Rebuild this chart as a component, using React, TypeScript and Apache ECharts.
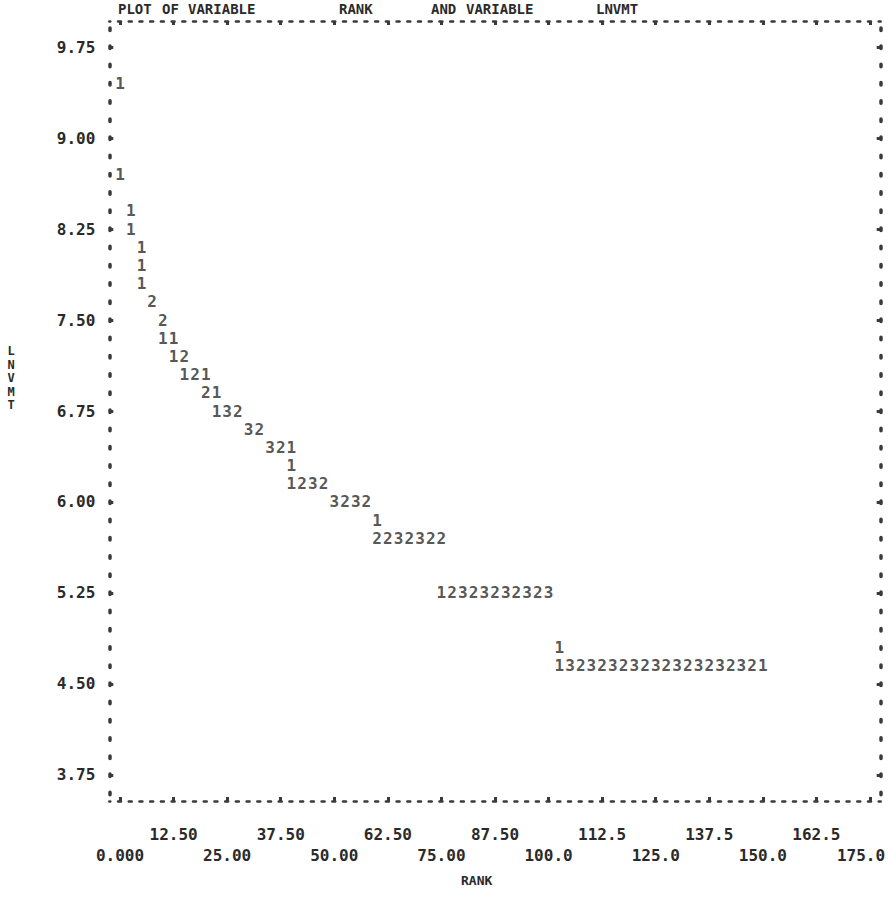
import React, { useEffect, useRef } from "react";
import * as echarts from "echarts";

// Axis ticks and labels
const xTickValues = [0, 12.5, 25, 37.5, 50, 62.5, 75, 87.5, 100, 112.5, 125, 137.5, 150, 162.5, 175];
const xTickLabels = ["0.000", "12.50", "25.00", "37.50", "50.00", "62.50", "75.00", "87.50", "100.0", "112.5", "125.0", "137.5", "150.0", "162.5", "175.0"];
const yTickValues = [3.75, 4.5, 5.25, 6, 6.75, 7.5, 8.25, 9, 9.75];
const yTickLabels = ["3.75", "4.50", "5.25", "6.00", "6.75", "7.50", "8.25", "9.00", "9.75"];

// Printed cells: each row of the line-printer plot (LNVMT value), the RANK of each cell, and the count printed there
const rowLnvmt = [9.45, 8.7, 8.4, 8.25, 8.1, 7.95, 7.8, 7.65, 7.5, 7.35, 7.2, 7.05, 6.9, 6.75, 6.6, 6.45, 6.3, 6.15, 6.0, 5.85, 5.7, 5.25, 4.8, 4.65];
const rowRanks = [
  [0],
  [0],
  [2.5],
  [2.5],
  [5],
  [5],
  [5],
  [7.5],
  [10],
  [10, 12.5],
  [12.5, 15],
  [15, 17.5, 20],
  [20, 22.5],
  [22.5, 25, 27.5],
  [30, 32.5],
  [35, 37.5, 40],
  [40],
  [40, 42.5, 45, 47.5],
  [50, 52.5, 55, 57.5],
  [60],
  [60, 62.5, 65, 67.5, 70, 72.5, 75],
  [75, 77.5, 80, 82.5, 85, 87.5, 90, 92.5, 95, 97.5, 100],
  [102.5],
  [102.5, 105, 107.5, 110, 112.5, 115, 117.5, 120, 122.5, 125, 127.5, 130, 132.5, 135, 137.5, 140, 142.5, 145, 147.5, 150],
];
const rowCounts = [
  [1],
  [1],
  [1],
  [1],
  [1],
  [1],
  [1],
  [2],
  [2],
  [1, 1],
  [1, 2],
  [1, 2, 1],
  [2, 1],
  [1, 3, 2],
  [3, 2],
  [3, 2, 1],
  [1],
  [1, 2, 3, 2],
  [3, 2, 3, 2],
  [1],
  [2, 2, 3, 2, 3, 2, 2],
  [1, 2, 3, 2, 3, 2, 3, 2, 3, 2, 3],
  [1],
  [1, 3, 2, 3, 2, 3, 2, 3, 2, 3, 2, 3, 2, 3, 2, 3, 2, 3, 2, 1],
];

const FONT = "'DejaVu Sans Mono', 'Liberation Mono', monospace";
const INK = "#2a2a2a";
const FRAME = "#3a3a3a";
const X_MIN = -2.5;
const X_MAX = 177.5;
const Y_MIN = 3.5357;
const Y_MAX = 9.9643;

const lookup = (vals: number[], labels: string[], v: number) => {
  const i = vals.findIndex((t) => Math.abs(t - v) < 1e-6);
  return i >= 0 ? labels[i] : "";
};

export default function App() {
  const ref = useRef<HTMLDivElement>(null);

  useEffect(() => {
    if (!ref.current) return;
    const chart = echarts.init(ref.current, null, { renderer: "svg" });

    const points: any[] = [];
    rowLnvmt.forEach((y, r) => {
      rowRanks[r].forEach((x, i) => {
        points.push([x, y, rowCounts[r][i]]);
      });
    });

    const textBase = { fontFamily: FONT, fontWeight: "bold" as const, color: INK };
    const xDot = { color: FRAME, width: 2.5, type: [3, 7.714] as any, dashOffset: 1.5 };
    const yDot = { color: FRAME, width: 3.5, type: [2.5, 15.7] as any, dashOffset: 11.65 };
    const tickStyle = { color: FRAME, width: 3 };

    const option: any = {
      animation: false,
      backgroundColor: "#ffffff",
      grid: { left: 109.3, right: 7.3, top: 21, bottom: 98, containLabel: false, outerBoundsMode: "none" },
      xAxis: [
        {
          type: "value",
          position: "bottom",
          min: X_MIN,
          max: X_MAX,
          axisLine: { show: true, onZero: false, lineStyle: xDot },
          axisTick: { show: true, customValues: xTickValues, inside: true, length: 4, lineStyle: tickStyle },
          axisLabel: {
            show: true,
            customValues: xTickValues.filter((_, i) => i % 2 === 1),
            formatter: (v: number) => lookup(xTickValues, xTickLabels, v),
            margin: 25,
            fontSize: 16,
            ...textBase,
          },
          splitLine: { show: false },
        },
        {
          type: "value",
          position: "top",
          min: X_MIN,
          max: X_MAX,
          axisLine: { show: true, onZero: false, lineStyle: xDot },
          axisTick: { show: true, customValues: xTickValues, inside: true, length: 4, lineStyle: tickStyle },
          axisLabel: { show: false },
          splitLine: { show: false },
        },
        {
          type: "value",
          position: "bottom",
          min: X_MIN,
          max: X_MAX,
          axisLine: { show: false, onZero: false },
          axisTick: { show: false },
          axisLabel: {
            show: true,
            customValues: xTickValues.filter((_, i) => i % 2 === 0),
            formatter: (v: number) => {
              const s = lookup(xTickValues, xTickLabels, v);
              if (Math.abs(v - xTickValues[xTickValues.length - 1]) < 1e-6) return "{a|" + s + "}{p| }";
              return s;
            },
            rich: {
              a: { fontFamily: FONT, fontWeight: "bold", fontSize: 16, color: INK },
              p: { width: 18, fontFamily: FONT, fontSize: 16 },
            },
            margin: 46,
            fontSize: 16,
            ...textBase,
          },
          splitLine: { show: false },
        },
      ],
      yAxis: [
        {
          type: "value",
          position: "left",
          min: Y_MIN,
          max: Y_MAX,
          axisLine: { show: true, onZero: false, lineStyle: yDot },
          axisTick: { show: true, customValues: yTickValues, inside: true, length: 4, lineStyle: tickStyle },
          axisLabel: {
            show: true,
            customValues: yTickValues,
            formatter: (v: number) => lookup(yTickValues, yTickLabels, v),
            margin: 14,
            fontSize: 16,
            ...textBase,
          },
          splitLine: { show: false },
        },
        {
          type: "value",
          position: "right",
          min: Y_MIN,
          max: Y_MAX,
          axisLine: { show: true, onZero: false, lineStyle: yDot },
          axisTick: { show: true, customValues: yTickValues, inside: true, length: 4, lineStyle: tickStyle },
          axisLabel: { show: false },
          splitLine: { show: false },
        },
      ],
      graphic: [
        ...[
          ["PLOT", 118],
          ["OF", 162],
          ["VARIABLE", 188],
          ["RANK", 339],
          ["AND", 431],
          ["VARIABLE", 466],
          ["LNVMT", 596],
        ].map(([t, x]) => ({
          type: "text",
          x: x as number,
          y: 9,
          style: { text: t as string, fill: INK, fontFamily: FONT, fontWeight: "bold", fontSize: 14, align: "left", verticalAlign: "middle" },
        })),
        {
          type: "text",
          x: 11,
          y: 378,
          style: { text: "L\nN\nV\nM\nT", fill: INK, fontFamily: FONT, fontWeight: "bold", fontSize: 12, lineHeight: 13.5, align: "center", verticalAlign: "middle" },
        },
        {
          type: "text",
          x: 461,
          y: 880,
          style: { text: "RANK", fill: INK, fontFamily: FONT, fontWeight: "bold", fontSize: 13, align: "left", verticalAlign: "middle" },
        },
      ],
      series: [
        {
          type: "scatter",
          xAxisIndex: 0,
          yAxisIndex: 0,
          data: points,
          symbol: "circle",
          symbolSize: 1,
          silent: true,
          itemStyle: { color: "rgba(0,0,0,0)" },
          label: {
            show: true,
            position: "inside",
            formatter: (p: any) => String(p.value[2]),
            fontSize: 16,
            ...textBase,
          },
        },
      ],
    };

    chart.setOption(option);
    return () => chart.dispose();
  }, []);

  return (
    <div
      ref={ref}
      style={{ position: "absolute", left: 0, top: 0, width: 888, height: 899, background: "#ffffff" }}
    />
  );
}
